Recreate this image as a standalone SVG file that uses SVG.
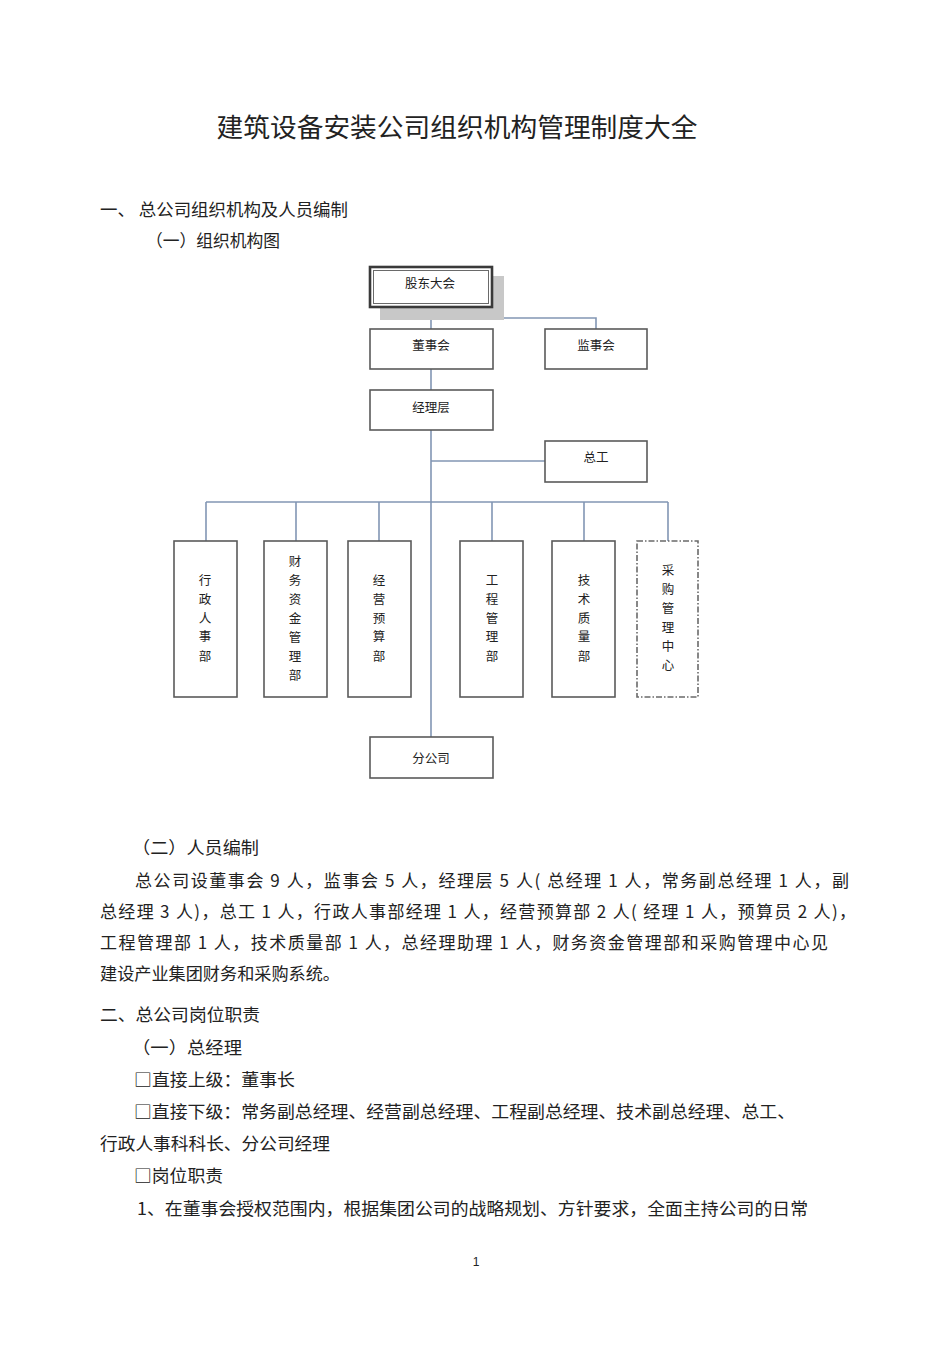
<svg xmlns="http://www.w3.org/2000/svg" width="950" height="1346" viewBox="0 0 950 1346">
<style>
text{font-family:"Noto Sans CJK SC","Liberation Sans",sans-serif;fill:#222}
.box{fill:#fff;stroke:#5a5a5a;stroke-width:1.6}
.lbl{font-size:12.5px;text-anchor:middle}
.vt{font-size:12.5px;text-anchor:middle}
.con{fill:none;stroke:#8296b4;stroke-width:1.6}
.body{font-size:17px}
.pg{font-family:"Liberation Sans",sans-serif;font-size:12px;text-anchor:middle}
</style>
<rect width="950" height="1346" fill="#fff"/>
<text x="457" y="137" font-size="26" text-anchor="middle" textLength="481" lengthAdjust="spacingAndGlyphs">建筑设备安装公司组织机构管理制度大全</text>
<text class="body" x="100" y="216" textLength="248" lengthAdjust="spacingAndGlyphs">一、 总公司组织机构及人员编制</text>
<text class="body" x="146" y="247" textLength="134" lengthAdjust="spacingAndGlyphs">（一）组织机构图</text>

<g id="connectors">
<path class="con" d="M431 307V329M431 318H596V329M431 369V390M431 430V737M431 461H545M206 502H668M206 502V541M296 502V541M379 502V541M492 502V541M584 502V541M668 502V541"/>
</g>

<g id="n-gudong">
<rect x="380" y="276" width="124" height="44" fill="#c8c8c8"/>
<rect x="370" y="267" width="122" height="40" fill="#fff" stroke="#3a3a3a" stroke-width="2.6"/>
<rect x="373.5" y="270.5" width="115" height="33" fill="none" stroke="#6a6a6a" stroke-width="1"/>
<text class="lbl" x="430" y="288">股东大会</text>
</g>
<g id="n-dongshi"><rect class="box" x="370" y="329" width="123" height="40"/><text class="lbl" x="431" y="350">董事会</text></g>
<g id="n-jianshi"><rect class="box" x="545" y="329" width="102" height="40"/><text class="lbl" x="596" y="350">监事会</text></g>
<g id="n-jingli"><rect class="box" x="370" y="390" width="123" height="40"/><text class="lbl" x="431" y="412">经理层</text></g>
<g id="n-zonggong"><rect class="box" x="545" y="441" width="102" height="41"/><text class="lbl" x="596" y="462">总工</text></g>

<g id="n-xingzheng"><rect class="box" x="174" y="541" width="63" height="156"/>
<text class="vt" x="205"><tspan x="205" y="585">行</tspan><tspan x="205" y="604">政</tspan><tspan x="205" y="623">人</tspan><tspan x="205" y="641">事</tspan><tspan x="205" y="661">部</tspan></text></g>
<g id="n-caiwu"><rect class="box" x="264" y="541" width="63" height="156"/>
<text class="vt" x="295"><tspan x="295" y="566">财</tspan><tspan x="295" y="585">务</tspan><tspan x="295" y="604">资</tspan><tspan x="295" y="623">金</tspan><tspan x="295" y="642">管</tspan><tspan x="295" y="661">理</tspan><tspan x="295" y="680">部</tspan></text></g>
<g id="n-jingying"><rect class="box" x="348" y="541" width="63" height="156"/>
<text class="vt" x="379"><tspan x="379" y="585">经</tspan><tspan x="379" y="604">营</tspan><tspan x="379" y="623">预</tspan><tspan x="379" y="641">算</tspan><tspan x="379" y="661">部</tspan></text></g>
<g id="n-gongcheng"><rect class="box" x="460" y="541" width="63" height="156"/>
<text class="vt" x="492"><tspan x="492" y="585">工</tspan><tspan x="492" y="604">程</tspan><tspan x="492" y="623">管</tspan><tspan x="492" y="641">理</tspan><tspan x="492" y="661">部</tspan></text></g>
<g id="n-jishu"><rect class="box" x="552" y="541" width="63" height="156"/>
<text class="vt" x="584"><tspan x="584" y="585">技</tspan><tspan x="584" y="604">术</tspan><tspan x="584" y="623">质</tspan><tspan x="584" y="641">量</tspan><tspan x="584" y="661">部</tspan></text></g>
<g id="n-caigou"><rect x="637" y="541" width="61" height="156" fill="#fff" stroke="#6a6a6a" stroke-width="1.6" stroke-dasharray="6 2 1.5 2"/>
<text class="vt" x="668"><tspan x="668" y="575">采</tspan><tspan x="668" y="594">购</tspan><tspan x="668" y="613">管</tspan><tspan x="668" y="632">理</tspan><tspan x="668" y="651">中</tspan><tspan x="668" y="670">心</tspan></text></g>
<g id="n-fengongsi"><rect class="box" x="370" y="737" width="123" height="41"/><text class="lbl" x="431" y="763">分公司</text></g>

<text class="body" x="132" y="854" textLength="127" lengthAdjust="spacingAndGlyphs">（二）人员编制</text>
<text class="body" x="135" y="887" textLength="714" lengthAdjust="spacing">总公司设董事会  9 人，监事会  5 人，经理层  5 人( 总经理 1 人，常务副总经理   1 人，副</text>
<text class="body" x="100" y="918" textLength="756" lengthAdjust="spacing">总经理  3 人)，总工 1 人，行政人事部经理   1 人，经营预算部  2 人( 经理 1 人，预算员 2 人)，</text>
<text class="body" x="100" y="949" textLength="728" lengthAdjust="spacing">工程管理部  1 人，技术质量部   1 人，总经理助理   1 人，财务资金管理部和采购管理中心见</text>
<text class="body" x="100" y="980" textLength="240" lengthAdjust="spacingAndGlyphs">建设产业集团财务和采购系统。</text>
<text class="body" x="100" y="1021" textLength="160" lengthAdjust="spacingAndGlyphs">二、总公司岗位职责</text>
<text class="body" x="132" y="1054" textLength="110" lengthAdjust="spacingAndGlyphs">（一）总经理</text>
<text class="body" x="134" y="1086" textLength="161" lengthAdjust="spacingAndGlyphs">□直接上级：董事长</text>
<text class="body" x="134" y="1118" textLength="661" lengthAdjust="spacingAndGlyphs">□直接下级：常务副总经理、经营副总经理、工程副总经理、技术副总经理、总工、</text>
<text class="body" x="100" y="1150" textLength="230" lengthAdjust="spacingAndGlyphs">行政人事科科长、分公司经理</text>
<text class="body" x="134" y="1182" textLength="89" lengthAdjust="spacingAndGlyphs">□岗位职责</text>
<text class="body" x="137" y="1215" textLength="671" lengthAdjust="spacingAndGlyphs">1、在董事会授权范围内，根据集团公司的战略规划、方针要求，全面主持公司的日常</text>
<text class="pg" x="476" y="1266">1</text>
</svg>
